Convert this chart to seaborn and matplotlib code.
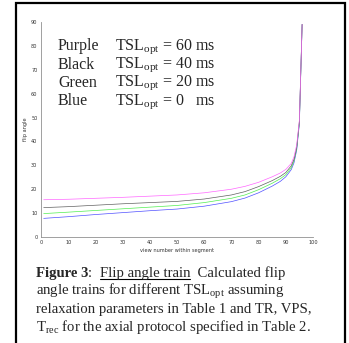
import pandas as pd
import seaborn as sns
import matplotlib.pyplot as plt
from matplotlib.patches import Rectangle
from matplotlib.lines import Line2D

views = [1, 10, 20, 30, 40, 50, 60, 70, 75, 80, 85, 88, 90, 92, 93, 94, 95, 96]

# flip angle (degrees) for each TSL_opt
purple_60 = [15.6, 15.8, 16.2, 16.6, 17.1, 17.6, 18.5, 20.0, 21.2, 22.9,
             25.2, 26.8, 28.3, 30.8, 33.5, 38.5, 49.0, 89.0]
black_40 = [12.3, 12.7, 13.3, 13.9, 14.4, 14.9, 15.9, 17.6, 19.0, 21.1,
            23.6, 25.4, 27.0, 29.8, 32.5, 37.5, 48.5, 89.0]
green_20 = [9.8, 10.4, 11.1, 11.8, 12.5, 13.2, 14.4, 16.2, 17.6, 19.8,
            22.5, 24.4, 26.1, 29.0, 31.8, 37.0, 48.0, 89.0]
blue_0 = [7.8, 8.5, 9.4, 10.2, 11.0, 11.7, 12.9, 14.8, 16.3, 18.5,
          21.3, 23.3, 25.2, 28.2, 31.0, 36.3, 47.5, 89.0]

series_names = ["Blue", "Green", "Black", "Purple"]
series_colors = ["#5050ff", "#50ee50", "#606060", "#ff66ff"]
legend_names = ["Purple", "Black", "Green", "Blue"]
legend_tsl = ["60 ms", "40 ms", "20 ms", "0   ms"]

x_ticks = list(range(0, 101, 10))
y_ticks = list(range(0, 91, 10))

FS = 10.6
LEG_FS = 11.5


def main():
    frames = []
    for name, vals in zip(series_names, [blue_0, green_20, black_40, purple_60]):
        frames.append(pd.DataFrame({"view": views, "flip": vals, "curve": name}))
    data = pd.concat(frames, ignore_index=True)

    sns.set_style("white")
    plt.rcParams["font.family"] = ["Liberation Serif", "DejaVu Serif"]
    plt.rcParams["mathtext.fontset"] = "custom"
    plt.rcParams["mathtext.rm"] = "Liberation Serif"
    plt.rcParams["mathtext.it"] = "Liberation Serif:italic"
    plt.rcParams["mathtext.bf"] = "Liberation Serif:bold"

    fig = plt.figure(figsize=(3.49, 3.43), dpi=100)
    ax = fig.add_axes([41 / 349, 1 - 237 / 343, 272 / 349, 215 / 343])

    sns.lineplot(data=data, x="view", y="flip", hue="curve",
                 palette=dict(zip(series_names, series_colors)),
                 linewidth=0.5, legend=False, ax=ax)

    ax.set_xlim(0, 100)
    ax.set_ylim(0, 90)
    ax.set_xticks(x_ticks)
    ax.set_yticks(y_ticks)
    ax.tick_params(direction="in", length=2, width=0.5, labelsize=3.6,
                   colors="#707070", labelcolor="#333333", pad=2.5)
    for lab in ax.get_xticklabels() + ax.get_yticklabels():
        lab.set_family("DejaVu Sans")
    ax.set_xlabel("view number within segment", fontsize=3.6,
                  family="DejaVu Sans", color="#333333", labelpad=1.5)
    ax.set_ylabel("flip angle", fontsize=3.6, family="DejaVu Sans",
                  color="#333333", labelpad=2.5)
    for side in ["top", "right"]:
        ax.spines[side].set_visible(False)
    for side in ["left", "bottom"]:
        ax.spines[side].set_color("#909090")
        ax.spines[side].set_linewidth(0.6)

    # legend written as text block like the original figure
    for i, (nm, tsl) in enumerate(zip(legend_names, legend_tsl)):
        y = 1 - (46.5 + 18.3 * i) / 343
        fig.text(58 / 349, y, nm, fontsize=LEG_FS, va="center")
        fig.text(115 / 349, y, r"TSL$_{\mathrm{opt}}$ = " + tsl,
                 fontsize=LEG_FS, va="center")

    # caption, first line built from pieces
    renderer = fig.canvas.get_renderer()
    inv = fig.transFigure.inverted()
    x = 36 / 349
    y0 = 1 - 277 / 343
    pieces = [("Figure 3", "bold", False), (":  ", "normal", False),
              ("Flip angle train", "normal", True), ("  Calculated flip", "normal", False)]
    for txt, weight, under in pieces:
        t = fig.text(x, y0, txt, fontsize=FS, weight=weight, va="baseline")
        bb = t.get_window_extent(renderer)
        x0f, _ = inv.transform((bb.x0, bb.y0))
        x1f, _ = inv.transform((bb.x1, bb.y0))
        if under:
            uy = y0 - 2.0 / 343
            fig.add_artist(Line2D([x0f, x1f], [uy, uy], color="black",
                                  linewidth=0.8, transform=fig.transFigure))
        x = x1f

    cap = [r"angle trains for different TSL$_{\mathrm{opt}}$ assuming",
           "relaxation parameters in Table 1 and TR, VPS,",
           r"T$_{\mathrm{rec}}$ for the axial protocol specified in Table 2."]
    for i, line in enumerate(cap):
        fig.text(36 / 349, 1 - (277 + 18 * (i + 1)) / 343, line, fontsize=FS,
                 va="baseline")

    # the source image cuts the last caption line short
    fig.patches.append(Rectangle((17.5 / 349, 0), 326 / 349, 9 / 343,
                                 transform=fig.transFigure, facecolor="white",
                                 edgecolor="none", zorder=5))

    # surrounding frame
    fig.patches.append(Rectangle((15.5 / 349, -0.05), 329.5 / 349,
                                 1.05 - 3.5 / 343, transform=fig.transFigure,
                                 fill=False, edgecolor="black", linewidth=1.6,
                                 zorder=6))

    plt.savefig("out.png", dpi=100)


if __name__ == "__main__":
    main()
